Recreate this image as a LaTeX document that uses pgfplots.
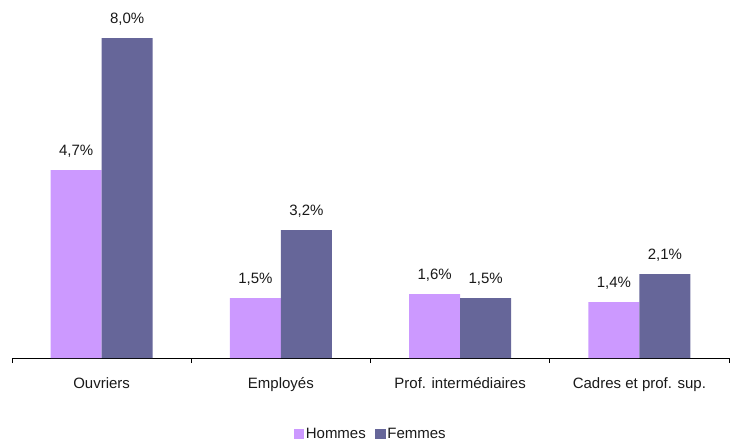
\documentclass[border=0pt]{standalone}
\usepackage{pgfplots}
\pgfplotsset{compat=1.18}
\usepackage{fontspec}
\setmainfont{Liberation Sans}
\definecolor{hom}{RGB}{204,153,255}
\definecolor{fem}{RGB}{102,102,153}
\begin{document}
\fontsize{15}{17}\selectfont
\begin{tikzpicture}
\useasboundingbox (-12pt,-86pt) rectangle (723pt,358pt);
\begin{axis}[
  at={(0,0)}, anchor=south west,
  scale only axis, width=717pt, height=358pt,
  ybar=0pt, bar width=51pt,
  xmin=-0.5, xmax=3.5, ymin=0, ymax=8.95,
  axis y line=none, axis x line*=bottom,
  x axis line style={black, line width=0.8pt, -},
  xtick={0,1,2,3},
  xticklabels={Ouvriers, Employés, Prof. intermédiaires, Cadres et prof. sup.},
  major tick length=0pt,
  extra x ticks={-0.5,0.5,1.5,2.5,3.5},
  extra x tick labels={},
  extra x tick style={major tick length=5pt, tick align=outside, tick style={black, line width=0.8pt}},
  xticklabel style={anchor=base, yshift=-30pt, text=black!90},
  /pgf/number format/assume math mode=true,
  nodes near coords={\pgfmathprintnumber[fixed, fixed zerofill, precision=1, use comma]{\pgfplotspointmeta}\%},
  every node near coord/.append style={anchor=base, inner sep=0pt, yshift=14.5pt, text=black!90},
  legend columns=2,
  legend style={at={(0.5,0)}, anchor=center, yshift=-76pt, draw=none, fill=none,
    /tikz/every even column/.append style={column sep=8pt},
    nodes={inner sep=1.5pt, text=black!90}},
  legend image code/.code={\path[#1, draw=none] (0pt,-5pt) rectangle (10.5pt,5.5pt);},
]
\addplot[fill=hom, draw=none] coordinates {(0,4.7) (1,1.5) (2,1.6) (3,1.4)};
\addplot[fill=fem, draw=none] coordinates {(0,8.0) (1,3.2) (2,1.5) (3,2.1)};
\legend{Hommes, Femmes}
\end{axis}
\end{tikzpicture}
\end{document}
